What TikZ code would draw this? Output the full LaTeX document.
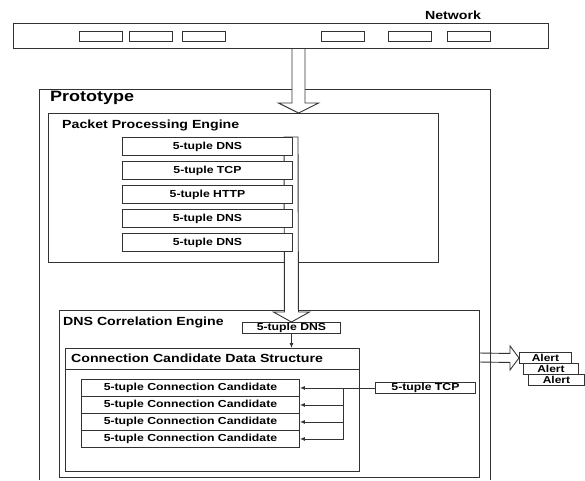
\documentclass[tikz,border=0pt]{standalone}
\usepackage{fontspec}
\setmainfont{Liberation Sans}[FakeStretch=1.2]
\usetikzlibrary{calc,arrows.meta}
\tikzset{
    frame-box/.style = {draw=black!80, line width=1pt, rectangle, anchor=north west, inner sep=0pt},
    frame-line/.style = {draw=black!80, line width=1pt},
    tuple-box/.style = {draw=black!80, fill=white, line width=0.9pt, rectangle, anchor=north west, inner sep=0pt, font=\fontsize{10.2}{11}\selectfont\bfseries},
    box-title/.style = {anchor=west, inner sep=0pt, font=\fontsize{11.8}{13}\selectfont\bfseries},
    fat-arrow/.style = {draw=black!80, line width=0.9pt, fill=white},
    thin-arrow/.style = {draw=black!80, line width=0.9pt, -{Latex[length=5pt,width=4pt]}},
}

\begin{document}
\begin{tikzpicture}[x=1pt,y=-1pt]
\useasboundingbox (0,0) rectangle (585,480);

% prototype (runs off the bottom)
\draw[frame-line] (39,480) |- (490,89) -- (490,480);
\node[box-title, font=\fontsize{15}{17}\selectfont\bfseries] (prototype-label) at (50,98) {Prototype};

% engines
\node[frame-box, minimum width=390pt, minimum height=149pt] (ppe) at (48,113) {};
\node[box-title] (ppe-label) at (62,125) {Packet Processing Engine};
\node[frame-box, minimum width=420pt, minimum height=167pt] (dce) at (59,310) {};
\node[box-title] (dce-label) at (63,322) {DNS Correlation Engine};

% traffic from the network
\coordinate (in-top) at (298.5,48);
\coordinate (in-tip) at (298.5,113);
\draw[fat-arrow] ($(in-top)+(-6.5,0)$) -- ($(in-tip)+(-6.5,-10)$) -- ($(in-tip)+(-20,-10)$) -- (in-tip)
    -- ($(in-tip)+(20,-10)$) -- ($(in-tip)+(6.5,-10)$) -- ($(in-top)+(6.5,0)$);

% network
\node[frame-box, minimum width=535pt, minimum height=25pt] (network) at (13,23) {};
\foreach \x in {79,129,182,321,388,447}
    \node[frame-box, line width=0.9pt, minimum width=43pt, minimum height=10pt] (slot-\x) at (\x,31) {};
\node[box-title, anchor=center] (network-label) at (453,15) {Network};

% packets handed on to the correlation engine
\node[tuple-box, minimum width=98pt, minimum height=11pt] (dns-in) at (242,322) {5-tuple DNS};
\coordinate (fwd-top) at (291,137);
\draw[fat-arrow] ($(fwd-top)+(-7,0)$) -- ($(dns-in.north)+(-7,-10)$) -- ($(dns-in.north)+(-18,-10)$) -- (dns-in.north)
    -- ($(dns-in.north)+(18,-10)$) -- ($(dns-in.north)+(7,-10)$) -- ($(fwd-top)+(7,0)$) -- cycle;
\foreach \i/\t in {1/DNS,2/TCP,3/HTTP,4/DNS,5/DNS}
    \node[tuple-box, minimum width=170pt, minimum height=18pt] (packet-\i) at (122,{113+24*\i}) {5-tuple \t};

% connection candidates
\node[frame-box, minimum width=294pt, minimum height=123pt] (ccds) at (65,348) {};
\node[box-title] (ccds-label) at (71,358.5) {Connection Candidate Data Structure};
\draw[frame-line] ($(ccds.north west)+(0,21)$) -- ($(ccds.north east)+(0,21)$);
\draw[thin-arrow] (dns-in.south) -- (dns-in.south |- ccds.north);

\foreach \i in {1,...,4}
    \node[tuple-box, minimum width=218pt, minimum height=17pt] (cand-\i) at (81,{362+17*\i}) {5-tuple Connection Candidate};
\node[tuple-box, minimum width=100pt, minimum height=11pt] (tcp-in) at (375,382) {5-tuple TCP};
\coordinate (bus-1) at ($(cand-1.east)+(44,0)$);
\coordinate (bus-4) at ($(cand-4.east)+(44,0)$);
\draw[thin-arrow] (tcp-in.west) -- (cand-1.east);
\draw[frame-line, line width=0.9pt] (bus-1) -- (bus-4);
\foreach \i in {2,3,4}
    \draw[thin-arrow] (cand-\i.east -| bus-1) -- (cand-\i.east);

% alerts
\foreach \i/\x/\w in {3/528/56,2/523/55,1/519/52}
    \node[tuple-box, font=\fontsize{10}{11}\selectfont\bfseries, minimum width=\w pt, minimum height=11pt] (alert-\i) at (\x,{341+11*\i}) {Alert};
\coordinate (out-start) at (479,357.5);
\draw[fat-arrow, fill=none] ($(out-start)+(0,-4.5)$) -- ($(alert-1.west)+(-9,-4.5)$) -- ($(alert-1.west)+(-9,-12)$) -- (alert-1.west)
    -- ($(alert-1.west)+(-9,12)$) -- ($(alert-1.west)+(-9,4.5)$) -- ($(out-start)+(0,4.5)$);
\end{tikzpicture}
\end{document}
